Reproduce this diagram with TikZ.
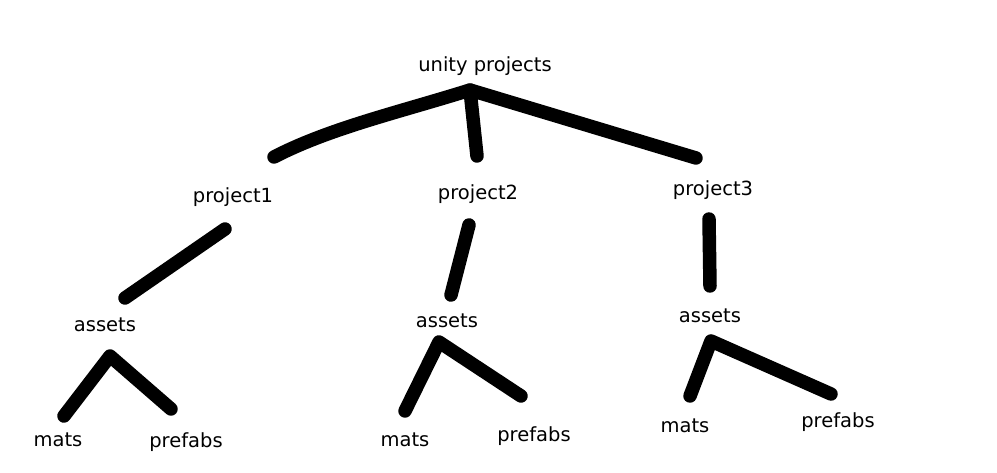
\documentclass[tikz,border=0pt]{standalone}
\usepackage{fontspec}
\setmainfont{DejaVu Sans}
\begin{document}
\begin{tikzpicture}[x=1pt,y=-1pt,
  lbl/.style={anchor=base,inner sep=0pt,font=\fontsize{19.5}{22}\selectfont},
  stroke/.style={line width=13.5pt,line cap=round,line join=round,black}]
\useasboundingbox[fill=white] (0,0) rectangle (997,473);
% labels
\node[lbl] (root) at (485,72) {unity projects};
\node[lbl] (p1) at (233,203) {project1};
\node[lbl] (p2) at (478,200) {project2};
\node[lbl] (p3) at (713,196) {project3};
\node[lbl] (a1) at (105,331) {assets};
\node[lbl] (a2) at (447,328) {assets};
\node[lbl] (a3) at (710,323) {assets};
\node[lbl] (m1) at (58,446) {mats};
\node[lbl] (f1) at (186,447) {prefabs};
\node[lbl] (m2) at (405,446) {mats};
\node[lbl] (f2) at (534,441) {prefabs};
\node[lbl] (m3) at (685,432) {mats};
\node[lbl] (f3) at (838,428) {prefabs};
% stroke end points
\coordinate (rT) at (470,90);
\coordinate (rL) at (274,157);
\coordinate (rM) at (477,156);
\coordinate (rR) at (696,158);
\coordinate (p1T) at (225,229);
\coordinate (p1B) at (125,298);
\coordinate (p2T) at (469,225);
\coordinate (p2B) at (451,295);
\coordinate (p3T) at (709,219);
\coordinate (p3B) at (710,286);
\coordinate (a1T) at (110,356);
\coordinate (a1L) at (64,416);
\coordinate (a1R) at (171,409);
\coordinate (a2T) at (439,342);
\coordinate (a2L) at (405,411);
\coordinate (a2R) at (521,396);
\coordinate (a3T) at (711,341);
\coordinate (a3L) at (690,396);
\coordinate (a3R) at (831,394);
% strokes
\draw[stroke] (rL) .. controls (330,128) and (400,112) .. (rT) -- (rR);
\draw[stroke] (rT) -- (rM);
\draw[stroke] (p1T) -- (p1B);
\draw[stroke] (p2T) -- (p2B);
\draw[stroke] (p3T) -- (p3B);
\draw[stroke] (a1L) -- (a1T) -- (a1R);
\draw[stroke] (a2L) -- (a2T) -- (a2R);
\draw[stroke] (a3L) -- (a3T) -- (a3R);
\end{tikzpicture}
\end{document}
